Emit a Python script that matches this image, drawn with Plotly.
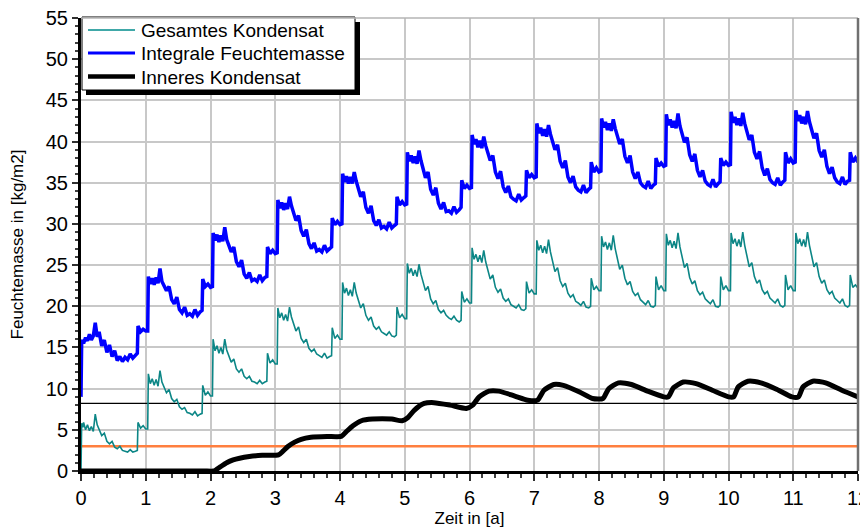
import plotly.graph_objects as go

# ---------------- data ----------------
jahre = list(range(12))
zyklus_offsets = [0.03, 0.04, 0.07, 0.10, 0.13, 0.16, 0.19, 0.22, 0.25, 0.28,
                  0.32, 0.36, 0.40, 0.44, 0.48, 0.52, 0.56, 0.60, 0.64, 0.68,
                  0.72, 0.76, 0.80, 0.84, 0.87, 0.88, 0.92, 0.96, 1.00]

start_t = [0.0, 0.01]
feuchte_start = [9.0, 15.6]
gesamt_start = [0.0, 5.8]

feuchte_jahre = [
    [15.9, 15.5, 16.2, 15.8, 16.6, 15.9, 16.4, 18.0, 16.3, 16.9, 15.2, 15.9, 14.4, 15.3, 13.9, 14.6, 13.4, 13.9, 13.3, 13.8, 13.5, 14.2, 13.7, 14.1, 14.3, 17.6, 16.9, 17.2, 17.0],
    [17.0, 23.6, 22.7, 23.4, 22.6, 23.5, 22.8, 24.6, 23.0, 22.6, 21.9, 22.4, 20.8, 20.3, 21.1, 19.6, 19.2, 19.9, 18.9, 19.1, 18.8, 19.6, 18.9, 19.3, 19.5, 23.3, 22.4, 22.7, 22.3],
    [22.4, 28.9, 28.0, 28.7, 27.8, 28.6, 27.9, 29.6, 28.1, 27.5, 26.6, 27.2, 25.4, 24.8, 25.6, 23.9, 23.4, 24.1, 23.1, 23.3, 23.0, 23.8, 23.1, 23.5, 23.6, 27.2, 26.4, 26.8, 26.4],
    [26.5, 32.9, 31.9, 32.6, 31.7, 32.5, 31.8, 33.3, 32.2, 31.4, 30.4, 31.0, 29.2, 28.5, 29.3, 27.6, 27.0, 27.7, 26.7, 26.9, 26.6, 27.4, 26.7, 27.0, 27.2, 30.7, 29.9, 30.3, 29.9],
    [30.0, 36.1, 35.1, 35.8, 34.9, 35.7, 34.9, 36.3, 35.2, 34.4, 33.3, 33.9, 32.0, 31.3, 32.2, 30.4, 29.8, 30.5, 29.5, 29.7, 29.4, 30.2, 29.5, 29.8, 30.0, 33.3, 32.3, 32.7, 32.3],
    [32.4, 38.7, 37.6, 38.3, 37.4, 38.2, 37.3, 38.9, 37.7, 36.8, 35.6, 36.3, 34.2, 33.5, 34.4, 32.5, 31.8, 32.6, 31.5, 31.6, 31.3, 32.1, 31.4, 31.7, 32.0, 35.3, 34.3, 34.7, 34.3],
    [34.4, 40.8, 39.7, 40.3, 39.3, 40.1, 39.2, 40.6, 39.5, 38.8, 37.7, 38.3, 36.3, 35.5, 36.4, 34.5, 33.8, 34.6, 33.3, 33.0, 32.8, 33.6, 32.9, 33.2, 33.4, 36.5, 35.6, 36.0, 35.6],
    [35.7, 42.2, 41.0, 41.7, 40.7, 41.5, 40.6, 42.0, 40.9, 40.2, 39.0, 39.6, 37.6, 36.8, 37.7, 35.7, 35.0, 35.8, 34.5, 34.1, 33.9, 34.7, 33.8, 34.2, 34.4, 37.5, 36.3, 36.8, 36.3],
    [36.4, 42.8, 41.7, 42.4, 41.4, 42.2, 41.3, 42.7, 41.6, 40.9, 39.7, 40.3, 38.2, 37.4, 38.3, 36.3, 35.5, 36.3, 35.0, 34.6, 34.4, 35.2, 34.3, 34.7, 34.9, 38.0, 37.0, 37.4, 37.0],
    [37.1, 43.3, 42.0, 42.7, 41.7, 42.5, 41.6, 43.4, 41.9, 41.1, 39.9, 40.5, 38.4, 37.6, 38.5, 36.5, 35.7, 36.5, 35.2, 34.8, 34.6, 35.4, 34.5, 34.9, 35.1, 38.0, 37.1, 37.5, 37.1],
    [37.2, 43.6, 42.3, 43.0, 42.0, 42.8, 41.9, 43.5, 42.2, 41.4, 40.2, 40.8, 38.7, 37.9, 38.8, 36.8, 35.9, 36.7, 35.4, 35.0, 34.8, 35.6, 34.7, 35.1, 35.3, 38.7, 37.4, 37.9, 37.4],
    [37.5, 43.8, 42.5, 43.2, 42.2, 43.0, 42.1, 43.7, 42.4, 41.6, 40.4, 41.0, 38.9, 38.1, 39.0, 37.0, 36.1, 36.9, 35.6, 35.1, 34.9, 35.7, 34.8, 35.2, 35.3, 38.7, 37.5, 38.0, 37.5],
]

gesamt_jahre = [
    [5.3, 5.9, 5.0, 5.6, 4.9, 5.4, 4.8, 6.9, 5.6, 5.0, 4.3, 4.6, 3.6, 3.3, 3.6, 2.9, 2.7, 3.0, 2.5, 2.4, 2.3, 2.6, 2.3, 2.4, 2.5, 5.9, 5.2, 5.5, 5.1],
    [5.1, 11.8, 10.6, 11.2, 10.4, 11.1, 10.3, 12.2, 10.8, 10.2, 9.5, 9.9, 8.8, 8.4, 8.7, 7.8, 7.5, 7.7, 7.1, 7.0, 6.8, 7.2, 6.7, 6.9, 7.0, 10.4, 9.2, 9.6, 9.1],
    [9.1, 16.0, 14.6, 15.2, 14.3, 15.0, 14.2, 16.0, 14.7, 14.0, 13.2, 13.6, 12.4, 12.0, 12.4, 11.5, 11.2, 11.5, 10.9, 10.8, 10.6, 11.0, 10.6, 10.8, 10.9, 14.3, 13.1, 13.5, 13.0],
    [13.0, 19.8, 18.6, 19.2, 18.3, 19.0, 18.2, 19.9, 18.7, 17.9, 17.0, 17.5, 16.1, 15.6, 16.0, 14.9, 14.5, 14.8, 14.2, 14.0, 13.8, 14.3, 13.7, 13.9, 14.0, 17.4, 16.1, 16.5, 16.0],
    [16.0, 22.9, 21.6, 22.2, 21.3, 22.0, 21.2, 22.9, 21.6, 20.8, 19.8, 20.3, 18.9, 18.3, 18.7, 17.6, 17.2, 17.5, 16.9, 16.7, 16.5, 16.9, 16.4, 16.3, 16.5, 19.9, 18.6, 19.0, 18.5],
    [18.5, 25.2, 24.0, 24.6, 23.7, 24.4, 23.6, 25.1, 23.9, 23.0, 21.9, 22.4, 20.9, 20.3, 20.7, 19.6, 19.2, 19.5, 18.9, 18.6, 18.4, 18.8, 18.3, 18.1, 18.3, 21.8, 20.5, 20.9, 20.4],
    [20.4, 27.1, 25.7, 26.3, 25.4, 26.2, 25.3, 26.8, 25.4, 24.4, 23.3, 23.8, 22.3, 21.7, 22.1, 21.0, 20.6, 20.9, 20.2, 20.0, 19.8, 20.2, 19.6, 19.5, 19.7, 23.0, 21.6, 22.0, 21.5],
    [21.5, 28.0, 26.8, 27.4, 26.5, 27.3, 26.4, 28.1, 26.6, 25.5, 24.2, 24.7, 23.1, 22.4, 22.8, 21.6, 21.1, 21.4, 20.6, 20.4, 20.1, 20.6, 19.9, 19.8, 20.0, 23.4, 22.0, 22.4, 21.9],
    [21.9, 28.5, 27.2, 27.8, 26.9, 27.7, 26.8, 28.6, 27.0, 25.9, 24.5, 25.0, 23.4, 22.6, 23.0, 21.8, 21.3, 21.6, 20.8, 20.5, 20.2, 20.7, 20.0, 19.9, 20.1, 23.6, 22.0, 22.5, 21.9],
    [21.9, 28.8, 27.4, 28.0, 27.1, 27.9, 27.0, 28.9, 27.2, 26.1, 24.7, 25.2, 23.5, 22.7, 23.1, 21.9, 21.4, 21.7, 20.9, 20.6, 20.3, 20.8, 20.0, 19.9, 20.1, 23.6, 22.0, 22.5, 21.9],
    [21.9, 28.9, 27.6, 28.2, 27.3, 28.1, 27.2, 29.0, 27.4, 26.2, 24.8, 25.3, 23.6, 22.8, 23.2, 22.0, 21.5, 21.8, 21.0, 20.7, 20.4, 20.9, 20.1, 19.9, 20.1, 23.8, 22.0, 22.5, 21.9],
    [21.9, 28.9, 27.6, 28.2, 27.3, 28.1, 27.2, 29.0, 27.4, 26.2, 24.8, 25.3, 23.6, 22.8, 23.2, 22.0, 21.5, 21.8, 21.0, 20.7, 20.4, 20.9, 20.1, 19.9, 20.1, 23.8, 22.3, 22.6, 22.2],
]

inneres_t = [0.0, 0.7, 1.4, 1.9, 2.05, 2.15, 2.25, 2.35, 2.45, 2.6, 2.8, 3.05, 3.12, 3.2, 3.3, 3.4, 3.55, 3.8,
             4.02, 4.1, 4.2, 4.33, 4.5, 4.8, 4.96, 5.05, 5.15, 5.3, 5.45, 5.7, 5.95,
             6.05, 6.15, 6.3, 6.45, 6.7, 6.9, 7.05, 7.15, 7.3, 7.45, 7.7, 7.9,
             8.06, 8.15, 8.3, 8.5, 8.75, 9.0, 9.07, 9.15, 9.3, 9.5, 9.75, 10.0,
             10.08, 10.15, 10.3, 10.5, 10.75, 10.98, 11.08, 11.15, 11.3, 11.5, 11.75, 12.0]
inneres_v = [0.0, 0.0, 0.0, 0.0, 0.0, 0.5, 1.0, 1.35, 1.55, 1.75, 1.9, 1.95, 2.4, 3.0, 3.5, 3.85, 4.1, 4.2,
             4.2, 4.8, 5.5, 6.1, 6.3, 6.3, 6.1, 6.5, 7.4, 8.2, 8.3, 8.0, 7.6,
             8.0, 9.0, 9.7, 9.7, 9.1, 8.6, 8.6, 9.8, 10.5, 10.4, 9.6, 8.8,
             8.8, 10.0, 10.7, 10.5, 9.7, 9.0, 9.0, 10.1, 10.8, 10.6, 9.8, 9.0,
             9.0, 10.2, 10.9, 10.7, 9.9, 9.0, 9.0, 10.2, 10.9, 10.7, 9.8, 9.0]

grenze_schwarz = 8.2
grenze_orange = 3.0
x_bereich = [0, 12]
y_bereich = [0, 55]

serien_namen = ["Gesamtes Kondensat", "Integrale Feuchtemasse", "Inneres Kondensat"]
serien_farben = ["#0c8686", "#0000FF", "#000000"]
serien_breiten = [1.6, 3.5, 5]

# ---------------- build series ----------------
t_zyklus = start_t + [j + o for j in jahre for o in zyklus_offsets]
feuchte_v = feuchte_start + [v for row in feuchte_jahre for v in row]
gesamt_v = gesamt_start + [v for row in gesamt_jahre for v in row]

FONT = "Liberation Sans, Arial, sans-serif"

fig = go.Figure()
fig.add_trace(go.Scatter(x=x_bereich, y=[grenze_orange] * 2, mode="lines",
                         line=dict(color="#FF7F3F", width=2.5), showlegend=False, hoverinfo="skip"))
fig.add_trace(go.Scatter(x=x_bereich, y=[grenze_schwarz] * 2, mode="lines",
                         line=dict(color="black", width=1.3), showlegend=False, hoverinfo="skip"))
fig.add_trace(go.Scatter(x=t_zyklus, y=gesamt_v, mode="lines", name=serien_namen[0],
                         line=dict(color=serien_farben[0], width=serien_breiten[0]), showlegend=False))
fig.add_trace(go.Scatter(x=t_zyklus, y=feuchte_v, mode="lines", name=serien_namen[1],
                         line=dict(color=serien_farben[1], width=serien_breiten[1]), showlegend=False))
fig.add_trace(go.Scatter(x=inneres_t, y=inneres_v, mode="lines", name=serien_namen[2],
                         line=dict(color=serien_farben[2], width=serien_breiten[2],
                                   shape="spline", smoothing=0.6), showlegend=False))

# ---------------- layout geometry ----------------
# The page body adds an 8 px offset, so the figure is made 8 px smaller and
# the margins are reduced accordingly; the plot area lands at screen x 81..858, y 18..471.
OFF = 8
FIG_W, FIG_H = 868 - OFF, 529 - OFF
L, T, W, H = 81, 18, 777, 453   # plot area in screen pixels


def px_x(p):
    return (p - L) / float(W)


def px_y(p):
    return (T + H - p) / float(H)


# legend box (drawn as in the original, with drop shadow)
fig.add_shape(type="rect", xref="paper", yref="paper", layer="above",
              x0=px_x(86), x1=px_x(360), y0=px_y(95), y1=px_y(22),
              fillcolor="black", line=dict(width=0))
fig.add_shape(type="rect", xref="paper", yref="paper", layer="above",
              x0=px_x(82), x1=px_x(355), y0=px_y(90), y1=px_y(17),
              fillcolor="white", line=dict(color="black", width=1))
zeilen_y = [30, 53, 76.5]
muster_farben = ["#40a8a8", "#0000FF", "#000000"]
muster_breiten = [2, 2.8, 4.5]
for name, farbe, breite, yy in zip(serien_namen, muster_farben, muster_breiten, zeilen_y):
    fig.add_shape(type="line", xref="paper", yref="paper", layer="above",
                  x0=px_x(88), x1=px_x(135), y0=px_y(yy), y1=px_y(yy),
                  line=dict(color=farbe, width=breite))
    fig.add_annotation(text=name, xref="paper", yref="paper", x=px_x(139), y=px_y(yy + 0.5),
                       xanchor="left", yanchor="middle", showarrow=False,
                       font=dict(family=FONT, size=19, color="black"))

# frame: light top border, darker right border
fig.add_shape(type="line", xref="paper", yref="paper", x0=0, x1=1, y0=1, y1=1,
              line=dict(color="#b4b4b4", width=1.5))
fig.add_shape(type="line", xref="paper", yref="paper", x0=1, x1=1, y0=0, y1=1,
              line=dict(color="#707070", width=2.5))

fig.update_layout(
    width=FIG_W, height=FIG_H,
    margin=dict(l=L - OFF, r=FIG_W - (L - OFF) - W, t=T - OFF, b=FIG_H - (T - OFF) - H),
    paper_bgcolor="white", plot_bgcolor="white",
    font=dict(family=FONT, size=18, color="black"),
    showlegend=False,
    xaxis=dict(range=x_bereich, dtick=1, tick0=0, showgrid=True, gridcolor="#c8c8c8", gridwidth=1.5,
               zeroline=False, showline=True, linecolor="black", linewidth=3,
               ticks="outside", ticklen=7, tickwidth=1.5, tickcolor="#303030",
               minor=dict(dtick=0.2, ticks="outside", ticklen=4, tickcolor="#404040", showgrid=False),
               tickfont=dict(size=20), automargin=False, ticklabeloverflow="allow",
               title=dict(text="Zeit in [a]", font=dict(size=17), standoff=1)),
    yaxis=dict(range=y_bereich, dtick=5, tick0=0, showgrid=True, gridcolor="#c8c8c8", gridwidth=1.5,
               zeroline=False, showline=True, linecolor="black", linewidth=3,
               ticks="outside", ticklen=6, tickwidth=1.5, tickcolor="#303030",
               minor=dict(dtick=1, ticks="outside", ticklen=3, tickcolor="#404040", showgrid=False),
               tickfont=dict(size=20), automargin=False, ticklabeloverflow="allow",
               title=dict(text="Feuchtemasse in [kg/m2]", font=dict(size=17), standoff=19)),
)

fig.write_html("out.html")
